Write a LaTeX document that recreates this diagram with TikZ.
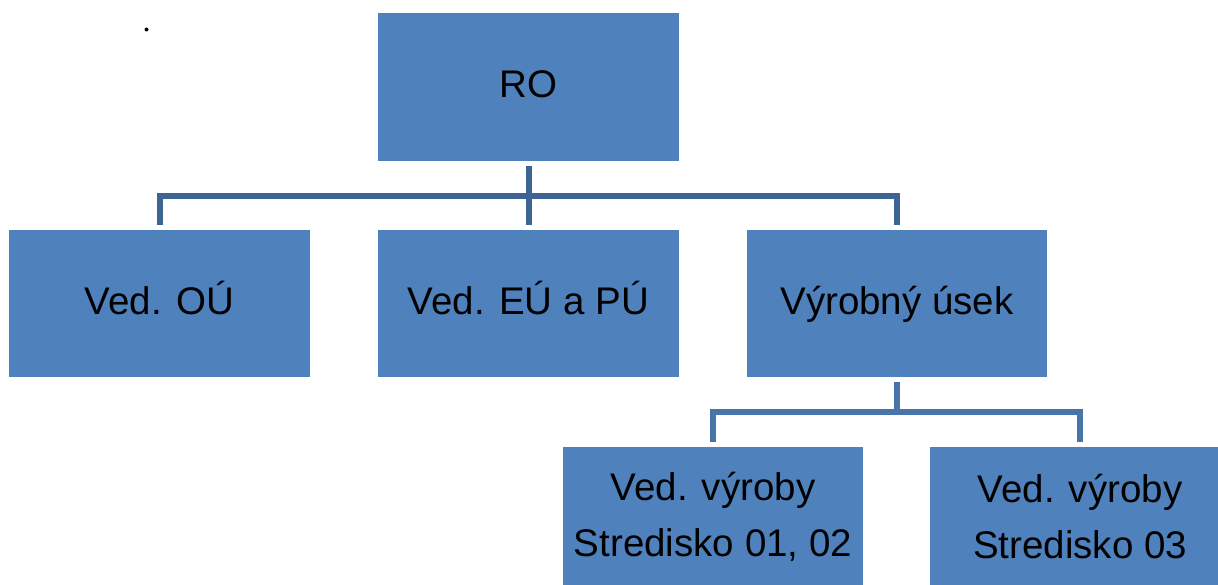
\documentclass[tikz,border=0pt]{standalone}
\usepackage{fontspec}
\setmainfont{Liberation Sans}
\usetikzlibrary{calc}
\definecolor{boxblue}{RGB}{79,129,189}
\definecolor{linedark}{RGB}{61,100,148}
\definecolor{linemid}{RGB}{72,116,170}
\begin{document}
\begin{tikzpicture}[x=1pt,y=-1pt,
  orgbox/.style={fill=boxblue, draw=none, inner sep=0pt, text=black,
    font=\fontsize{38.5}{56}\selectfont, align=center},
  single/.style={text height=32pt, text depth=10pt},
  conn1/.style={draw=linedark, line width=6pt},
  conn2/.style={draw=linemid, line width=5.5pt}]
\useasboundingbox (0,0) rectangle (1218,585);
\clip (0,0) rectangle (1218,585);
% boxes
\node[orgbox,single,minimum width=301pt,minimum height=148pt] (ro) at (528.5,87) {RO};
\node[orgbox,single,minimum width=301pt,minimum height=147pt] (ou) at (159.5,303.5) {Ved. OÚ};
\node[orgbox,single,minimum width=301pt,minimum height=147pt] (eu) at (528.5,303.5) {Ved. EÚ a PÚ};
\node[orgbox,single,minimum width=300pt,minimum height=147pt] (vu) at (897,303.5) {Výrobný úsek};
\node[orgbox,minimum width=300pt,minimum height=140pt] (c1) at (713,517) {Ved. výroby\\Stredisko 01, 02};
\node[orgbox,minimum width=300pt,minimum height=140pt] (c2) at (1080,517) {Ved. výroby\\Stredisko 03};
% level 1 connectors
\coordinate (bus1) at (528.5,196);
\draw[conn1] ($(ro.south)+(0,5)$) -- (ro.south |- bus1);
\draw[conn1] ($(ou.north)+(0,-5)$) -- (ou.north |- bus1) -- (vu.north |- bus1) -- ($(vu.north)+(0,-5)$);
\draw[conn1] (eu.north |- bus1) -- ($(eu.north)+(0,-5)$);
% level 2 connectors
\coordinate (bus2) at (897,412);
\draw[conn2] ($(vu.south)+(0,5)$) -- (vu.south |- bus2);
\draw[conn2] ($(c1.north)+(0,-5)$) -- (c1.north |- bus2) -- (c2.north |- bus2) -- ($(c2.north)+(0,-5)$);
% small dot
\fill[black] (146.5,29.5) circle[radius=2pt];
\end{tikzpicture}
\end{document}
